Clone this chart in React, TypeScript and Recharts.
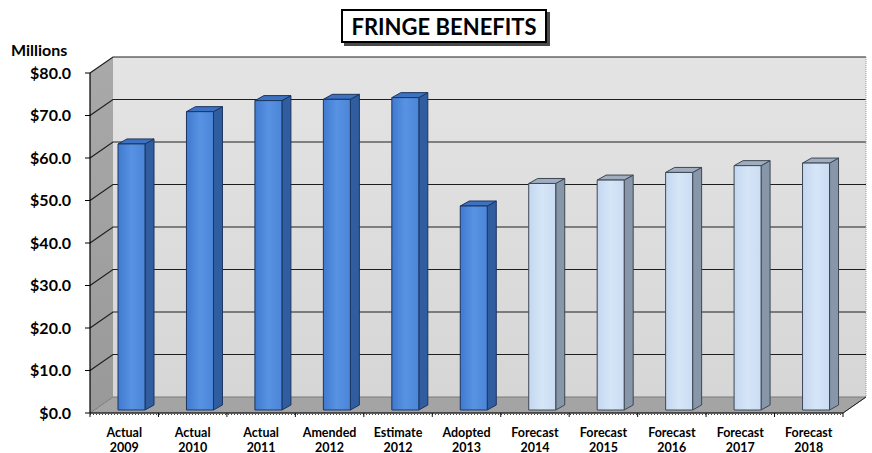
import React from 'react';
import { BarChart, Bar, XAxis, YAxis, ReferenceArea } from 'recharts';

const labelTop = ['Actual', 'Actual', 'Actual', 'Amended', 'Estimate', 'Adopted', 'Forecast', 'Forecast', 'Forecast', 'Forecast', 'Forecast'];
const labelYear = ['2009', '2010', '2011', '2012', '2012', '2013', '2014', '2015', '2016', '2017', '2018'];
const benefits = [62.6, 70.2, 72.8, 73.1, 73.5, 48.0, 53.3, 54.1, 55.9, 57.5, 58.1];
const projected = [false, false, false, false, false, false, true, true, true, true, true];
const yTicks = [0, 10, 20, 30, 40, 50, 60, 70, 80];

const data = labelTop.map((t, i) => ({
  name: `${t} ${labelYear[i]}`,
  value: benefits[i],
  projected: projected[i],
}));

const FONT = 'Lato, "Open Sans", sans-serif';

// depth of the 3d box (walls) and of each bar
const DX = 23;
const DY = -16;
const BDX = 9;
const BDY = -5;
const SHIFT_X = 7;
const SHIFT_Y = -3;

const BLUE = { front: 'url(#frontBlue)', side: '#2f5d9f', top: '#3d72c2', stroke: '#1b355f' };
const LIGHT = { front: 'url(#frontLight)', side: '#8796a8', top: '#9fadbf', stroke: '#3d4753' };

function Walls(props: any) {
  const { x, y, width, height } = props;
  const bottom = y + height;
  const right = x + width;
  const lines = yTicks.filter((v) => v > 0).map((v) => y + height * (1 - v / 80));
  const n = data.length;
  return (
    <g>
      <defs>
        <linearGradient id="backWall" x1="0" y1="0" x2="0" y2="1">
          <stop offset="0%" stopColor="#e4e4e4" />
          <stop offset="100%" stopColor="#d6d6d6" />
        </linearGradient>
        <linearGradient id="sideWall" x1="0" y1="0" x2="0" y2="1">
          <stop offset="0%" stopColor="#a9a9a9" />
          <stop offset="100%" stopColor="#999999" />
        </linearGradient>
        <linearGradient id="frontBlue" x1="0" y1="0" x2="1" y2="0">
          <stop offset="0%" stopColor="#3f7ad0" />
          <stop offset="50%" stopColor="#5892e2" />
          <stop offset="100%" stopColor="#4a85d8" />
        </linearGradient>
        <linearGradient id="frontLight" x1="0" y1="0" x2="1" y2="0">
          <stop offset="0%" stopColor="#c4d7f0" />
          <stop offset="50%" stopColor="#d6e6f8" />
          <stop offset="100%" stopColor="#cadcf3" />
        </linearGradient>
      </defs>
      <rect x={x + DX} y={y + DY} width={width} height={height} fill="url(#backWall)" />
      <polygon
        points={`${x},${y} ${x + DX},${y + DY} ${x + DX},${bottom + DY} ${x},${bottom}`}
        fill="url(#sideWall)"
      />
      <polygon
        points={`${x},${bottom} ${x + DX},${bottom + DY} ${right + DX},${bottom + DY} ${right},${bottom}`}
        fill="#a4a4a4"
        stroke="#7a7a7a"
      />
      {lines.map((ly, i) => (
        <polyline
          key={i}
          points={`${x},${ly} ${x + DX},${ly + DY} ${right + DX},${ly + DY}`}
          fill="none"
          stroke="#1e1e1e"
          strokeWidth={1.2}
        />
      ))}
      <line x1={right + DX} y1={y + DY} x2={right + DX} y2={bottom + DY} stroke="#9a9a9a" strokeDasharray="1 1" />
      <line x1={right} y1={bottom} x2={right + DX} y2={bottom + DY} stroke="#222" />
      <line x1={x} y1={bottom + 1.5} x2={right} y2={bottom + 1.5} stroke="#444" strokeDasharray="1 2" />
      {Array.from({ length: n + 1 }, (_, i) => (
        <line key={i} x1={x + (width * i) / n} y1={bottom} x2={x + (width * i) / n} y2={bottom + 4} stroke="#111" />
      ))}
    </g>
  );
}

function Bar3D(props: any) {
  const { x, y, width, height, payload } = props;
  if (!height || height <= 0) return null;
  const fx = x + SHIFT_X;
  const fy = y + SHIFT_Y;
  const w = width;
  const h = height;
  const c = payload.projected ? LIGHT : BLUE;
  return (
    <g stroke={c.stroke} strokeWidth={1} strokeLinejoin="round">
      <polygon
        points={`${fx + w},${fy} ${fx + w + BDX},${fy + BDY} ${fx + w + BDX},${fy + h + BDY} ${fx + w},${fy + h}`}
        fill={c.side}
      />
      <polygon
        points={`${fx},${fy} ${fx + BDX},${fy + BDY} ${fx + w + BDX},${fy + BDY} ${fx + w},${fy}`}
        fill={c.top}
      />
      <rect x={fx} y={fy} width={w} height={h} fill={c.front} />
    </g>
  );
}

function CategoryTick(props: any) {
  const { x, y, index } = props;
  return (
    <text x={x} y={y} textAnchor="middle" fontFamily={FONT} fontWeight={700} fontSize={12.5} fill="#000">
      <tspan x={x} dy={15.5}>{labelTop[index]}</tspan>
      <tspan x={x} dy={15}>{labelYear[index]}</tspan>
    </text>
  );
}

export default function App() {
  return (
    <div style={{ position: 'absolute', left: 0, top: 0, width: 872, height: 453, background: '#fff' }}>
      <div
        style={{
          position: 'absolute',
          left: 341,
          top: 9,
          width: 206,
          height: 34,
          boxSizing: 'border-box',
          border: '2px solid #000',
          boxShadow: '3px 3px 0 #4a4a4a',
          background: '#fff',
          display: 'flex',
          alignItems: 'center',
          justifyContent: 'center',
          fontFamily: FONT,
          fontWeight: 700,
          fontSize: 22,
          zIndex: 2,
        }}
      >
        FRINGE BENEFITS
      </div>
      <div
        style={{
          position: 'absolute',
          left: 11,
          top: 41,
          fontFamily: FONT,
          fontWeight: 700,
          fontSize: 16,
          lineHeight: '18px',
          zIndex: 2,
        }}
      >
        Millions
      </div>
      <BarChart
        width={872}
        height={453}
        data={data}
        margin={{ top: 73, right: 29, bottom: 0, left: 10 }}
        barSize={27}
      >
        <ReferenceArea y1={0} y2={80} shape={<Walls />} ifOverflow="visible" />
        <XAxis
          dataKey="name"
          interval={0}
          height={40}
          tickLine={false}
          axisLine={{ stroke: '#000', strokeWidth: 1.2 }}
          tick={<CategoryTick />}
        />
        <YAxis
          width={80}
          domain={[0, 80]}
          ticks={yTicks}
          interval={0}
          tickSize={5}
          tickMargin={14}
          tickLine={{ stroke: '#000' }}
          axisLine={{ stroke: '#000', strokeWidth: 1.2 }}
          tickFormatter={(v: number) => `$${v.toFixed(1)}`}
          tick={{ fontFamily: FONT, fontWeight: 700, fontSize: 16, fill: '#000' }}
        />
        <Bar dataKey="value" shape={<Bar3D />} isAnimationActive={false} />
      </BarChart>
    </div>
  );
}
